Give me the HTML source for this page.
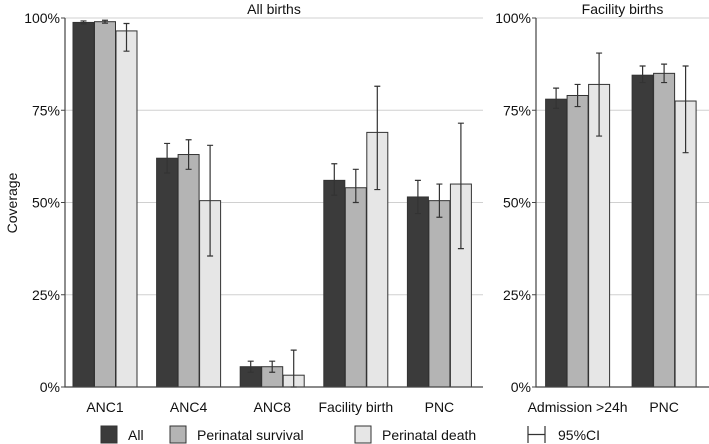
<!DOCTYPE html>
<html><head><meta charset="utf-8"><style>
body{margin:0;background:#fff}
svg{display:block;font-family:"Liberation Sans",Arial,sans-serif}
</style></head><body>
<svg id="c" width="709" height="444" xmlns="http://www.w3.org/2000/svg"></svg>
<script>
const leftCats=["ANC1","ANC4","ANC8","Facility birth","PNC"];
const rightCats=["Admission >24h","PNC"];
const seriesNames=["All","Perinatal survival","Perinatal death"];
const leftAll=[98.8,62,5.5,56,51.5];
const leftAllLo=[98.4,58,4,52,47];
const leftAllHi=[99.2,66,7,60.5,56];
const leftSurv=[99,63,5.5,54,50.5];
const leftSurvLo=[98.6,59,4,50,46];
const leftSurvHi=[99.4,67,7,59,55];
const leftDeath=[96.5,50.5,3.2,69,55];
const leftDeathLo=[91,35.5,0,53.5,37.5];
const leftDeathHi=[98.5,65.5,10,81.5,71.5];
const rightAll=[78,84.5];
const rightAllLo=[75.5,82.5];
const rightAllHi=[81,87];
const rightSurv=[79,85];
const rightSurvLo=[76,82.5];
const rightSurvHi=[82,87.5];
const rightDeath=[82,77.5];
const rightDeathLo=[68,63.5];
const rightDeathHi=[90.5,87];
const yTicks=[0,25,50,75,100];
const colors=["#3b3b3b","#b4b4b4","#e6e6e6"];
const NS="http://www.w3.org/2000/svg";
const svg=document.getElementById("c");
function mk(t,a,p){const e=document.createElementNS(NS,t);for(const k in a)e.setAttribute(k,a[k]);(p||svg).appendChild(e);return e;}
const y0=387,y100=18;
function yS(v){return y0-(y0-y100)*v/100;}
function panel(x0,x1,cats,vals,los,his,title,name){
  const g=mk("g",{});
  
  
  yTicks.forEach(t=>{
    if(t>0){const gl=mk("line",{x1:x0,x2:x1,y1:yS(t),y2:yS(t),stroke:"#d0d0d0","stroke-width":1},g);
    }
    const tk=mk("line",{x1:x0-4,x2:x0,y1:yS(t),y2:yS(t),stroke:"#444"},g);
    
    const tl=mk("text",{x:x0-5,y:yS(t)+5,"text-anchor":"end","font-size":14,fill:"#111"},g);
    tl.textContent=t+"%";
    
  });
  const band=(x1-x0)/cats.length, bw=21, pad=8;
  cats.forEach((c,i)=>{
    const gx=x0+i*band+pad*(band>86?1.2:1);
    for(let s=0;s<3;s++){
      const v=vals[s][i],bx=gx+s*(bw+0.5);
      const r=mk("rect",{x:bx,y:yS(v),width:bw,height:y0-yS(v),fill:colors[s],stroke:"#333","stroke-width":1},g);
      
      const cx=bx+bw/2,lo=yS(los[s][i]),hi=yS(his[s][i]);
      const eb=mk("path",{d:`M${cx},${lo}V${hi}M${cx-3},${lo}H${cx+3}M${cx-3},${hi}H${cx+3}`,stroke:"#333","stroke-width":1.2,fill:"none"},g);
      
    }
    const lb=mk("text",{x:gx+32,y:412,"text-anchor":"middle","font-size":14,fill:"#111"},g);
    lb.textContent=c;
    
  });
  const ax=mk("path",{d:`M${x0},${y100}V${y0}H${x1}`,stroke:"#444","stroke-width":1.2,fill:"none"},g);
  
  const tt=mk("text",{x:(x0+x1)/2,y:14,"text-anchor":"middle","font-size":14,fill:"#111"},g);
  tt.textContent=title;
  
}
panel(65,483,leftCats,[leftAll,leftSurv,leftDeath],[leftAllLo,leftSurvLo,leftDeathLo],[leftAllHi,leftSurvHi,leftDeathHi],"All births","all-births-panel");
panel(536,709,rightCats,[rightAll,rightSurv,rightDeath],[rightAllLo,rightSurvLo,rightDeathLo],[rightAllHi,rightSurvHi,rightDeathHi],"Facility births","facility-births-panel");
const yt=mk("text",{x:0,y:0,transform:"translate(17,203) rotate(-90)","text-anchor":"middle","font-size":14,fill:"#111"});
yt.textContent="Coverage";

const legX=[101,170,355];
seriesNames.forEach((n,i)=>{
  const r=mk("rect",{x:legX[i],y:426,width:16,height:17,fill:colors[i],stroke:"#333"});
  
  const t=mk("text",{x:legX[i]+27,y:440,"font-size":14,fill:"#111"});
  t.textContent=n;
  
});
const ci=mk("path",{d:"M528,426V443M528,434.5H545M545,426V443",stroke:"#333","stroke-width":1.2,fill:"none"});

const cit=mk("text",{x:558,y:440,"font-size":14,fill:"#111"});
cit.textContent="95%CI";

</script>
</body></html>
